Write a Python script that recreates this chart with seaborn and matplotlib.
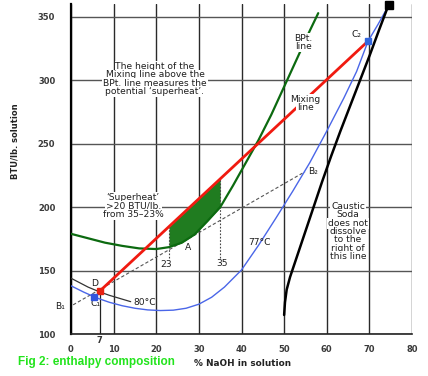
import matplotlib
matplotlib.use('Agg')
import matplotlib.pyplot as plt
import numpy as np
import pandas as pd
import seaborn as sns

# BPt. line
bpt_x = [0, 4, 8, 12, 16, 20, 23, 26, 29, 32, 35, 38, 41, 44, 47, 50, 53, 56, 58]
bpt_y = [179, 175.5, 172, 169.5, 167.5, 167, 168.5, 172, 178.5, 189, 200, 217, 235, 253, 273, 295, 317, 339, 353]

# mixing line D -> C2
mix_x = [6.8, 69.7]
mix_y = [134, 331]

# 77 C curve (blue)
blue_x = [0, 3, 6, 9, 12, 15, 18, 21, 24, 27, 30, 33, 36, 40, 44, 48, 52, 56, 60, 64, 67, 69.7, 72, 74.5]
blue_y = [138, 133, 128.5, 125, 122.3, 120.3, 119, 118.5, 118.8, 120.3, 123.5, 129, 137, 150.5, 170, 191,
          212.5, 235, 260, 286, 307, 331, 344, 359]

# 80 C curve
hot_x = [0, 2, 4, 6.5, 9, 11.5, 14]
hot_y = [144, 140.5, 137, 133.5, 130.5, 128, 125.5]

# solubility limit
caus_x = [50, 50.2, 50.6, 51.4, 52.4, 53.9, 55.4, 56.9, 58.9, 61.0, 63.2, 65.5, 67.8, 70.1, 72.3, 74.5]
caus_y = [115, 125, 135, 145, 155, 170, 185, 200, 220, 240, 260, 280, 300, 320, 340, 359.5]

# tie line B1 -> B2
tie_x = [0.5, 54.9]
tie_y = [123, 228]

shade_lo, shade_hi = 23, 35

sns.set_style('white')
plt.rcParams['font.family'] = ['DejaVu Sans']

fig = plt.figure(figsize=(4.28, 3.76), dpi=100)
ax = fig.add_axes([71 / 428, 1 - 334 / 376, 341 / 428, 329.7 / 376])

txt = '#1e1e1e'


def block(x, y, lines, size=6.6, step=6.55):
    for i, s in enumerate(lines):
        ax.text(x, y - i * step, s, ha='center', va='center', fontsize=size, color=txt, zorder=4,
                bbox=dict(facecolor='white', edgecolor='none', pad=0.6))


# shaded superheat region
xs = np.linspace(shade_lo, shade_hi, 60)
ax.fill_between(xs, np.interp(xs, bpt_x, bpt_y), np.interp(xs, mix_x, mix_y),
                color='#207c20', lw=0, zorder=2)

sns.lineplot(x=tie_x, y=tie_y, ax=ax, color='#555555', lw=0.8, ls=(0, (3, 2)), sort=False, estimator=None, zorder=2)
for xv in [shade_lo, shade_hi]:
    ax.plot([xv, xv], [160, np.interp(xv, mix_x, mix_y)], color='#444444', lw=0.8, ls=(0, (1.5, 1.5)), zorder=2)
ax.plot([mix_x[0], mix_x[0]], [100, mix_y[0]], color='#222222', lw=0.9, zorder=2)

curve_kw = dict(sort=False, estimator=None, zorder=3, solid_joinstyle='round', solid_capstyle='round')
sns.lineplot(x=hot_x, y=hot_y, ax=ax, color='#333333', lw=0.9, **curve_kw)
sns.lineplot(x=blue_x, y=blue_y, ax=ax, color='#4a66e8', lw=1.0, **curve_kw)
sns.lineplot(x=bpt_x, y=bpt_y, ax=ax, color='#0c6a10', lw=1.6, **curve_kw)
sns.lineplot(x=caus_x, y=caus_y, ax=ax, color='black', lw=1.8, **curve_kw)
sns.lineplot(x=mix_x, y=mix_y, ax=ax, color='#f01a10', lw=2.0, **curve_kw)

# points
ax.plot(mix_x[0], mix_y[0], 's', color='#e82010', ms=4.5, zorder=6)
ax.plot(5.5, 129, 's', color='#3355dd', ms=4, zorder=6)
ax.plot(mix_x[1], mix_y[1], 's', color='#3366dd', ms=4, zorder=6)
ax.plot(caus_x[-1], caus_y[-1], 's', color='black', ms=5.5, zorder=6, clip_on=False)

# annotations
block(19.7, 310.8, ['The height of the', 'Mixing line above the', 'BPt. line measures the',
                    'potential \u2018superheat\u2019.'])
block(14.6, 207.5, ['\u2018Superheat\u2019', '>20 BTU/lb.', 'from 35\u201323%'])
block(65, 200.4, ['Caustic', 'Soda', 'does not', 'dissolve', 'to the', 'right of', 'this line'])
block(54.5, 333.2, ['BPt.', 'line'])
block(54.9, 285.3, ['Mixing', 'line'])

small = dict(ha='center', va='center', fontsize=6.6, color=txt, zorder=5)
ax.text(44.3, 172.5, '77\u00b0C', **small)
ax.text(17.4, 125.2, '80\u00b0C', **small)
ax.text(5.6, 140, 'D', **small)
ax.text(5.8, 124.2, 'C\u2081', **small)
ax.text(-2.6, 122, 'B\u2081', clip_on=False, **small)
ax.text(27.5, 168.4, 'A', **small)
ax.text(22.2, 155, '23', **small)
ax.text(35.5, 155.7, '35', **small)
ax.text(56.9, 228, 'B\u2082', **small)
ax.text(66.9, 335.8, 'C\u2082', **small)
ax.text(6.6, 94.7, '7', clip_on=False, ha='center', va='center', fontsize=6, color='#333333',
        fontweight='bold')

ax.set_xlim(0, 80)
ax.set_ylim(100, 360)
ax.set_xticks(range(0, 81, 10))
ax.set_yticks(range(100, 351, 50))
ax.set_xticks(range(5, 80, 10), minor=True)
ax.set_xlabel('')
ax.set_ylabel('')

ax.xaxis.grid(True, color='#2a2a2a', lw=1.0)
ax.yaxis.grid(True, color='#555555', lw=1.0)
ax.set_axisbelow(True)
for s in ['top', 'right']:
    ax.spines[s].set_visible(False)
ax.spines['left'].set_color('black')
ax.spines['left'].set_linewidth(1.6)
ax.spines['bottom'].set_color('#222222')
ax.spines['bottom'].set_linewidth(1.2)

ax.tick_params(axis='y', which='major', direction='out', length=4.3, width=1.0, color='#555555',
               pad=7, labelsize=6, labelcolor='#3a3a3a')
ax.tick_params(axis='x', which='major', length=0, pad=8, labelsize=6, labelcolor='#3a3a3a')
ax.tick_params(axis='x', which='minor', direction='in', length=2.5, width=0.8, color='#333333')
for lab in ax.get_xticklabels() + ax.get_yticklabels():
    lab.set_fontweight('bold')

fig.text(243 / 428, 1 - 364 / 376, '% NaOH in solution', ha='center', va='center', fontsize=6.4,
         fontweight='bold', color='#222222')
fig.text(15 / 428, 1 - 141 / 376, 'BTU/lb. solution', ha='center', va='center', rotation=90,
         fontsize=6, fontweight='bold', color='#222222')
fig.text(18 / 428, 1 - 362 / 376, 'Fig 2: enthalpy composition', ha='left', va='center', fontsize=8.5,
         fontweight='bold', color='#22e41c', family='Liberation Sans')

fig.savefig('out.png', dpi=100)
